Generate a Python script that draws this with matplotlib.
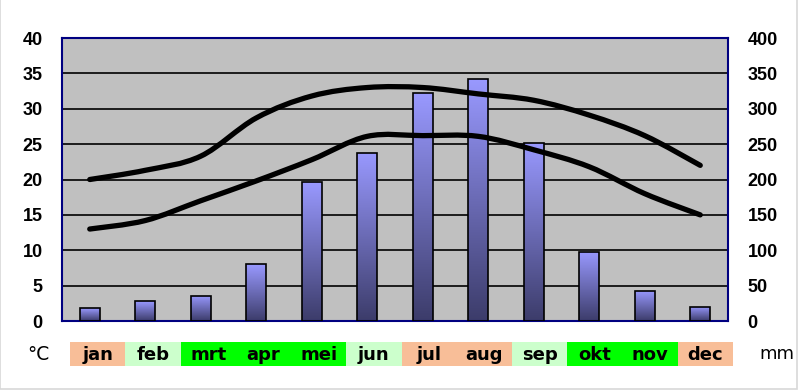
import numpy as np
import matplotlib
matplotlib.use('Agg')
import matplotlib.pyplot as plt
from matplotlib.path import Path
from matplotlib.patches import PathPatch, Rectangle
from matplotlib.colors import LinearSegmentedColormap

months = ['jan', 'feb', 'mrt', 'apr', 'mei', 'jun', 'jul', 'aug', 'sep', 'okt', 'nov', 'dec']
rain_mm = [18, 28, 36, 80, 196, 238, 322, 342, 252, 98, 43, 20]
t_max = [20, 21.3, 23.3, 28.7, 31.8, 33, 33, 32.1, 31.2, 29.1, 26.2, 22]
t_min = [13, 14.2, 17, 19.8, 22.8, 26.1, 26.2, 26.1, 24.2, 21.8, 18, 15]
band_colors = ['#F8BE98', '#CCFFCC', '#00FF00', '#00FF00', '#00FF00', '#CCFFCC',
               '#F8BE98', '#F8BE98', '#CCFFCC', '#00FF00', '#00FF00', '#F8BE98']


def smooth_path(xs, ys):
    # catmull-rom style bezier through the points (like excel smoothed line)
    pts = np.column_stack([xs, ys]).astype(float)
    verts = [pts[0]]
    codes = [Path.MOVETO]
    n = len(pts)
    for i in range(n - 1):
        p0 = pts[i - 1] if i > 0 else pts[i]
        p1 = pts[i]
        p2 = pts[i + 1]
        p3 = pts[i + 2] if i + 2 < n else pts[i + 1]
        c1 = p1 + (p2 - p0) / 6.0
        c2 = p2 - (p3 - p1) / 6.0
        verts += [c1, c2, p2]
        codes += [Path.CURVE4] * 3
    return Path(verts, codes)


fig = plt.figure(figsize=(8, 3.91), dpi=100)
fig.patch.set_facecolor('white')

ax2 = fig.add_axes([0.0775, 0.179, 0.8325, 0.7238])
ax = ax2.twinx()
ax.set_zorder(ax2.get_zorder() + 1)
ax.patch.set_visible(False)

ax2.set_facecolor('#C0C0C0')
x = np.arange(len(months))
bars = ax2.bar(x, rain_mm, width=0.36, color='none', edgecolor='black', linewidth=1.2, zorder=3)

cmap = LinearSegmentedColormap.from_list('bar', ['#3C3C6A', '#9999FF'])
grad = np.linspace(0, 1, 256).reshape(-1, 1)
for b in bars:
    x0 = b.get_x()
    w, h = b.get_width(), b.get_height()
    im = ax2.imshow(grad, extent=[x0, x0 + w, 0, h], origin='lower', aspect='auto',
                    cmap=cmap, zorder=2, interpolation='bicubic')
    im.set_clip_path(b)

ax2.set_xlim(-0.5, 11.5)
ax2.set_ylim(0, 400)
ax2.set_yticks(np.arange(0, 401, 50))
ax2.yaxis.grid(True, color='black', linewidth=1.2, zorder=1)
ax2.set_axisbelow(True)
ax2.set_xticks([])
ax2.yaxis.tick_right()
ax2.tick_params(axis='y', length=0, pad=14)
for lab in ax2.get_yticklabels():
    lab.set_fontfamily('Liberation Sans')
    lab.set_fontweight('bold')
    lab.set_fontsize(13)
for s in ax2.spines.values():
    s.set_color('#000080')
    s.set_linewidth(1.5)

ax.set_ylim(0, 40)
ax.set_xlim(-0.5, 11.5)
ax.yaxis.tick_left()
ax.set_yticks(np.arange(0, 41, 5))
ax.tick_params(axis='y', length=0, pad=14)
for lab in ax.get_yticklabels():
    lab.set_fontfamily('Liberation Sans')
    lab.set_fontweight('bold')
    lab.set_fontsize(13)
for s in ax.spines.values():
    s.set_visible(False)

for series in (t_max, t_min):
    ax.add_patch(PathPatch(smooth_path(x, series), facecolor='none', edgecolor='black',
                           linewidth=3.8, capstyle='round', joinstyle='round', zorder=5))

# month band row
axb = fig.add_axes([0.0875, 0.0639, 0.82875, 0.0614])
axb.set_xlim(0, 12)
axb.set_ylim(0, 1)
axb.axis('off')
for i, (m, c) in enumerate(zip(months, band_colors)):
    axb.add_patch(Rectangle((i, 0), 1, 1, facecolor=c, edgecolor='none'))
    axb.text(i + 0.5, 0.45, m, ha='center', va='center', fontsize=13,
             fontweight='bold', family='DejaVu Sans', color='black')

fig.text(38 / 800, 1 - 354 / 391, '°C', ha='center', va='center', fontsize=13.5, family='DejaVu Sans')
fig.text(777 / 800, 1 - 354 / 391, 'mm', ha='center', va='center', fontsize=13, family='DejaVu Sans')

fig.patches.append(Rectangle((0, 0.005), 0.996, 1.2, transform=fig.transFigure, fill=False,
                             edgecolor='#D8D8D8', linewidth=1.2))

fig.savefig('out.png', dpi=100)
